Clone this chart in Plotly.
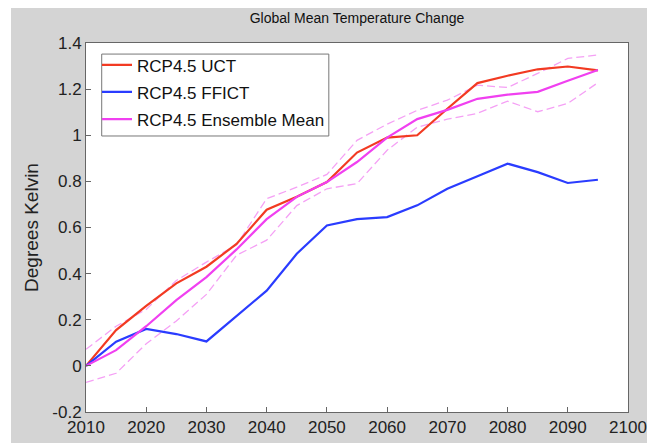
import plotly.graph_objects as go

years = [2010, 2015, 2020, 2025, 2030, 2035, 2040, 2045, 2050, 2055,
         2060, 2065, 2070, 2075, 2080, 2085, 2090, 2095]

uct = [0.0, 0.155, 0.26, 0.358, 0.43, 0.529, 0.677, 0.733, 0.797, 0.925,
       0.99, 1.0, 1.115, 1.226, 1.258, 1.286, 1.298, 1.281]

ffict = [0.0, 0.105, 0.16, 0.138, 0.106, 0.215, 0.326, 0.486, 0.609, 0.636,
         0.645, 0.696, 0.768, 0.822, 0.877, 0.84, 0.793, 0.807]

ens_mean = [0.0, 0.068, 0.172, 0.285, 0.385, 0.505, 0.636, 0.733, 0.797, 0.884,
            0.99, 1.07, 1.11, 1.158, 1.176, 1.188, 1.236, 1.283]

member_a = [0.072, 0.172, 0.245, 0.37, 0.45, 0.525, 0.725, 0.775, 0.83, 0.978,
            1.048, 1.108, 1.152, 1.217, 1.207, 1.268, 1.333, 1.348]

member_b = [-0.072, -0.032, 0.096, 0.195, 0.31, 0.48, 0.545, 0.695, 0.768, 0.79,
            0.935, 1.035, 1.07, 1.095, 1.148, 1.102, 1.138, 1.228]

xtick_vals = [2010, 2020, 2030, 2040, 2050, 2060, 2070, 2080, 2090, 2100]
xtick_text = ["2010", "2020", "2030", "2040", "2050", "2060", "2070", "2080", "2090", "2100"]
ytick_vals = [-0.2, 0, 0.2, 0.4, 0.6, 0.8, 1.0, 1.2, 1.4]
ytick_text = ["-0.2", "0", "0.2", "0.4", "0.6", "0.8", "1", "1.2", "1.4"]

FONT = "Liberation Sans, Arial, Helvetica, sans-serif"

fig = go.Figure()
fig.add_trace(go.Scatter(x=years, y=member_a, mode="lines", showlegend=False,
                         line=dict(color="#f5a0f5", width=1.3, dash="8px,4px")))
fig.add_trace(go.Scatter(x=years, y=member_b, mode="lines", showlegend=False,
                         line=dict(color="#f5a0f5", width=1.3, dash="8px,4px")))
fig.add_trace(go.Scatter(x=years, y=uct, mode="lines", name="RCP4.5 UCT",
                         legendgroup="a", line=dict(color="#f23a22", width=2.2)))
fig.add_trace(go.Scatter(x=years, y=ffict, mode="lines", name="RCP4.5 FFICT",
                         legendgroup="b", line=dict(color="#2a3cff", width=2.2)))
fig.add_trace(go.Scatter(x=years, y=ens_mean, mode="lines", name="RCP4.5 Ensemble Mean",
                         legendgroup="c", line=dict(color="#f040f0", width=2.2)))

# thin white strip at the left of the gray figure background
fig.add_shape(type="rect", xref="paper", yref="paper", x0=-0.2, x1=-0.1384, y0=-0.3, y1=1.3,
              fillcolor="white", line_width=0, layer="below")
# legend frame (Matlab style, tight around the entries)
fig.add_shape(type="rect", xref="paper", yref="paper", x0=0.029, x1=0.448, y0=0.748, y1=0.970,
              fillcolor="white", line=dict(color="#777", width=1), layer="above")

fig.update_layout(
    width=647, height=435,
    margin=dict(l=78, r=27, t=35, b=31, autoexpand=False),
    paper_bgcolor="#d4d4d4",
    plot_bgcolor="white",
    font=dict(family=FONT, size=17, color="#222"),
    title=dict(text="Global Mean Temperature Change", x=0.5394, xanchor="center",
               y=0.977, yanchor="middle", font=dict(size=14, color="#111")),
    legend=dict(x=0.0203, y=0.9883, xanchor="left", yanchor="top",
                bgcolor="rgba(0,0,0,0)", borderwidth=0,
                font=dict(size=17, color="#111"), traceorder="grouped",
                tracegroupgap=2),
    showlegend=True,
)

fig.update_xaxes(range=[2010, 2100], tickvals=xtick_vals, ticktext=xtick_text,
                 automargin=False,
                 showgrid=False, zeroline=False, ticks="inside", ticklen=5,
                 tickcolor="#666", showline=True, linecolor="#666", linewidth=1,
                 mirror=True, tickfont=dict(size=17, color="#222"))
fig.update_yaxes(range=[-0.2, 1.4], tickvals=ytick_vals, ticktext=ytick_text,
                 automargin=False,
                 showgrid=False, zeroline=False, ticks="inside", ticklen=5,
                 tickcolor="#666", showline=True, linecolor="#666", linewidth=1,
                 mirror=True, tickfont=dict(size=17, color="#222"),
                 title=dict(text="Degrees Kelvin", font=dict(size=19, color="#222"), standoff=8))

fig.write_html("out.html")
